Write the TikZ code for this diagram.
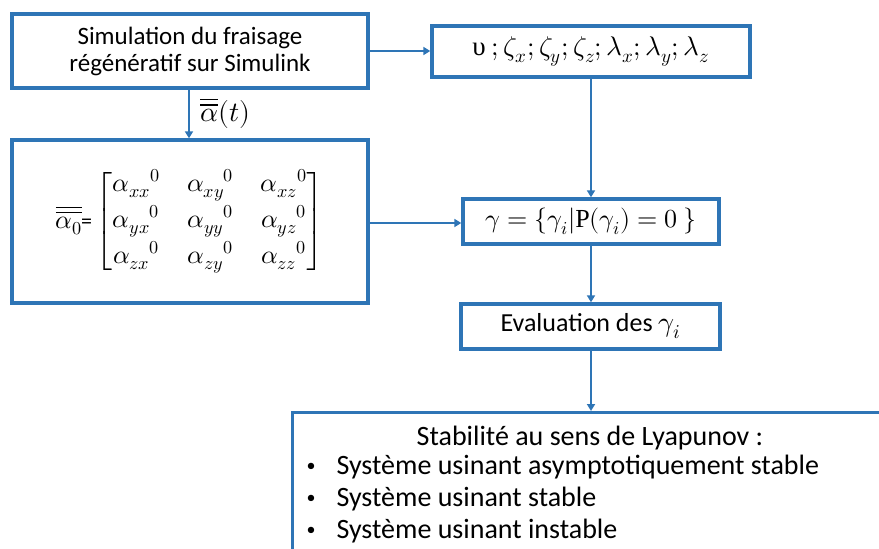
\documentclass[tikz,border=0pt]{standalone}
\usepackage{amsmath}
\usepackage{fontspec}
\usepackage{unicode-math}
\setmainfont{Carlito}
\setmathfont{Latin Modern Math}
\newfontfamily\serifm{Liberation Serif}
\usetikzlibrary{arrows.meta}
\definecolor{boxblue}{HTML}{2E75B6}
\tikzset{
  box/.style={draw=boxblue, line width=3.4pt, fill=white, inner sep=0pt, align=center},
  conn/.style={draw=boxblue, line width=2.2pt, -{Triangle[length=7pt,width=8pt]}},
}
\begin{document}
\begin{tikzpicture}[x=1pt,y=-1pt]
\useasboundingbox (0,0) rectangle (879,549);
\clip (0,0) rectangle (879,549);
\node[box, minimum width=356pt, minimum height=74pt, font=\fontsize{25}{28}\selectfont] (sim) at (190,51) {Simulation du fraisage\\[-1pt] régénératif sur Simulink};
\node[box, minimum width=318pt, minimum height=51pt, font=\fontsize{27}{28}\selectfont] (par) at (591,51.5) {{\serifm υ}$\ ;\zeta_x;\zeta_y;\zeta_z;\lambda_x;\lambda_y;\lambda_z$};
\node[box, minimum width=356pt, minimum height=163pt, font=\fontsize{26}{28}\selectfont] (mat) at (190,221.5) {$\overline{\overline{\alpha_0}}$\kern-1pt\fontsize{22}{24}\selectfont=\kern3pt\fontsize{26}{28}\selectfont$\setlength{\arraycolsep}{13.5pt}\begin{bmatrix}\alpha_{xx}{}^0 & \alpha_{xy}{}^0 & \alpha_{xz}{}^0\\[6pt] \alpha_{yx}{}^0 & \alpha_{yy}{}^0 & \alpha_{yz}{}^0\\[6pt] \alpha_{zx}{}^0 & \alpha_{zy}{}^0 & \alpha_{zz}{}^0\end{bmatrix}$};
\node[box, minimum width=256pt, minimum height=45pt, font=\fontsize{26}{28}\selectfont] (gam) at (591,221.5) {$\gamma = \{\gamma_i|\text{\serifm P}(\gamma_i)=0\ \}$};
\node[box, minimum width=259pt, minimum height=45pt, font=\fontsize{26}{28}\selectfont] (eva) at (590.5,326.5) {Evaluation des {\fontsize{28}{28}\selectfont$\gamma_i$}};
\node[box, anchor=north west, minimum width=640pt, minimum height=200pt] (sta) at (291,411) {};
\node[font=\fontsize{28}{30}\selectfont] (st0) at (590,438) {Stabilité au sens de Lyapunov :};
\node[font=\fontsize{28}{30}\selectfont, anchor=west] (st1) at (333,467) {Système usinant asymptotiquement stable};
\node[font=\fontsize{28}{30}\selectfont, anchor=west] (st2) at (333,499) {Système usinant stable};
\node[font=\fontsize{28}{30}\selectfont, anchor=west] (st3) at (333,531) {Système usinant instable};
\foreach \n in {st1,st2,st3} \node[font=\fontsize{18}{20}\selectfont] at ([xshift=-22pt]\n.west) {•};
\draw[conn] (sim.east |- 0,51) -- (par.west |- 0,51);
\draw[conn] (sim.south -| 189,0) -- node[right, font=\fontsize{28}{30}\selectfont, xshift=7pt, yshift=1pt] (lab) {$\overline{\overline{\alpha}}(t)$} (mat.north -| 189,0);
\draw[conn] (mat.east |- 0,223) -- (gam.west |- 0,223);
\draw[conn] (par.south) -- (gam.north);
\draw[conn] (gam.south) -- (gam.south |- eva.north);
\draw[conn] (gam.south |- eva.south) -- (gam.south |- sta.north);
\end{tikzpicture}
\end{document}
